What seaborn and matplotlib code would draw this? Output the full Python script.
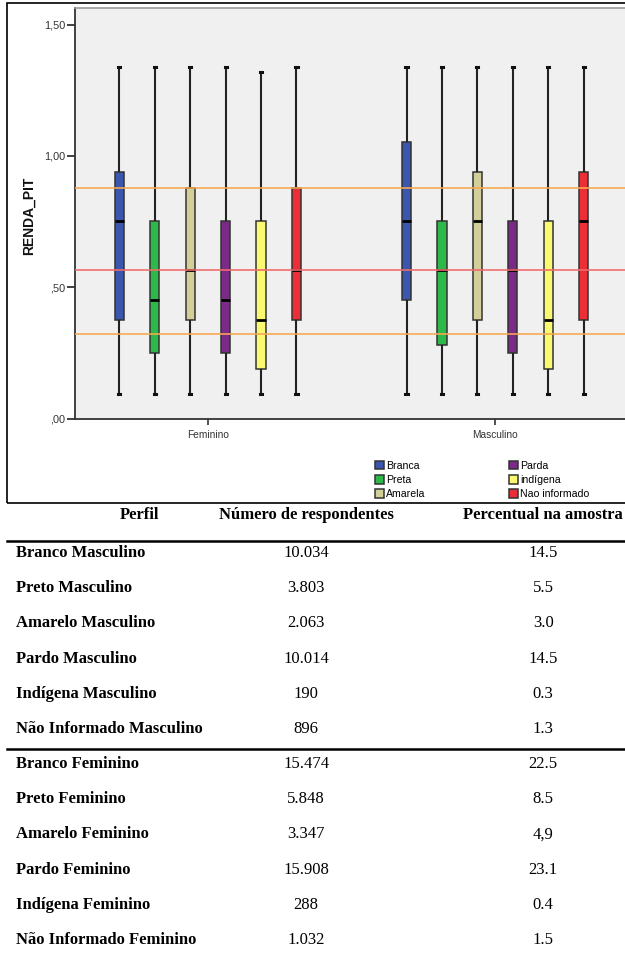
import matplotlib
matplotlib.use("Agg")
import matplotlib.pyplot as plt
from matplotlib.patches import Rectangle
import numpy as np
import pandas as pd
import seaborn as sns

# box summaries (min, Q1, median, Q3, max), one value per race group
racas = ["Branca", "Preta", "Amarela", "Parda", "indígena", "Nao informado"]
sexos = ["Feminino", "Masculino"]
cores = ["#3b57ad", "#2db84a", "#d3cf98", "#7b2a87", "#f9f871", "#ec2f37"]

fem_min = [0.095, 0.095, 0.095, 0.095, 0.095, 0.095]
fem_q1 = [0.376, 0.250, 0.376, 0.250, 0.189, 0.376]
fem_med = [0.753, 0.452, 0.564, 0.452, 0.376, 0.564]
fem_q3 = [0.940, 0.753, 0.876, 0.753, 0.753, 0.876]
fem_max = [1.337, 1.337, 1.337, 1.337, 1.318, 1.337]

masc_min = [0.095, 0.095, 0.095, 0.095, 0.095, 0.095]
masc_q1 = [0.452, 0.281, 0.376, 0.250, 0.189, 0.376]
masc_med = [0.753, 0.564, 0.753, 0.564, 0.376, 0.753]
masc_q3 = [1.052, 0.753, 0.940, 0.753, 0.753, 0.940]
masc_max = [1.337, 1.337, 1.337, 1.337, 1.337, 1.337]

ref_linhas = [0.876, 0.564, 0.322]
ref_cores = ["#f7a84f", "#f06b6b", "#f7a84f"]

yticks = [0.0, 0.5, 1.0, 1.5]
yticklabels = [",00", ",50", "1,00", "1,50"]

# table below the chart
perfil = ["Branco Masculino", "Preto Masculino", "Amarelo Masculino", "Pardo Masculino",
          "Indígena Masculino", "Não Informado Masculino", "Branco Feminino", "Preto Feminino",
          "Amarelo Feminino", "Pardo Feminino", "Indígena Feminino", "Não Informado Feminino"]
numero = ["10.034", "3.803", "2.063", "10.014", "190", "896",
          "15.474", "5.848", "3.347", "15.908", "288", "1.032"]
percentual = ["14.5", "5.5", "3.0", "14.5", "0.3", "1.3",
              "22.5", "8.5", "4,9", "23.1", "0.4", "1.5"]
cabecalho = ["Perfil", "Número de respondentes", "Percentual na amostra"]

# long form: five numbers per box -> seaborn gets exactly those quartiles back
rows = []
stats = {"Feminino": (fem_min, fem_q1, fem_med, fem_q3, fem_max),
         "Masculino": (masc_min, masc_q1, masc_med, masc_q3, masc_max)}
for sexo in sexos:
    for i, raca in enumerate(racas):
        for s in stats[sexo]:
            rows.append({"sexo": sexo, "raca": raca, "RENDA_PIT": s[i]})
df = pd.DataFrame(rows)

plt.rcParams["font.family"] = ["Liberation Sans", "DejaVu Sans"]

fig = plt.figure(figsize=(6.25, 9.64), dpi=100)
ax = fig.add_axes([75 / 625, (964 - 418.5) / 964, 553 / 625, 410.5 / 964])
ax.set_facecolor("#f0f0f0")

sns.boxplot(data=df, x="sexo", y="RENDA_PIT", hue="raca", order=sexos, hue_order=racas,
            palette=cores, saturation=1, whis=(0, 100), width=0.74, gap=0.74,
            linecolor="#333333", linewidth=1.1,
            medianprops={"color": "black", "linewidth": 2},
            whiskerprops={"color": "#222222", "linewidth": 1.5},
            capprops={"color": "#111111", "linewidth": 2.2},
            ax=ax)

# SPSS draws only tiny caps: shrink them around the whisker
for cont in ax.containers:
    for cap in getattr(cont, "caps", []):
        xd = np.asarray(cap.get_xdata(), dtype=float)
        mid = xd.mean()
        cap.set_xdata(mid + (xd - mid) * 0.45)

for v, c in zip(ref_linhas, ref_cores):
    ax.axhline(v, color=c, lw=1.3, alpha=0.9, zorder=5)

ax.set_xlim(-0.463, 1.463)
ax.set_ylim(0, 1.563)
ax.set_yticks(yticks)
ax.set_yticklabels(yticklabels)
ax.tick_params(axis="y", length=6, width=1.3, color="#333333", labelsize=7.8,
               labelcolor="#333333", pad=1)
ax.tick_params(axis="x", length=4, width=1.2, color="#333333", labelsize=7.3,
               labelcolor="#333333", pad=4)
ax.set_xlabel("")
ax.set_ylabel("RENDA_PIT", fontsize=10, fontweight="bold", color="#111111")
ax.yaxis.set_label_coords(-0.07, 0.493)
for side in ["left", "bottom"]:
    ax.spines[side].set_color("#333333")
    ax.spines[side].set_linewidth(1.3)
for side in ["top", "right"]:
    ax.spines[side].set_color("#9a9a9a")
    ax.spines[side].set_linewidth(1.2)

sns.move_legend(ax, "upper left", bbox_to_anchor=(0.533, -0.09), ncol=2, title=None,
                frameon=False, fontsize=7.6, handlelength=0.85, handleheight=0.9,
                handletextpad=0.2, columnspacing=7.9, labelspacing=0.4, borderpad=0)

# outer frame of the chart
fig.patches.append(Rectangle((7 / 625, 1 - 503 / 964), 1.0, 500 / 964, transform=fig.transFigure,
                             fill=False, ec="black", lw=1.2))

# table
tax = fig.add_axes([0, 0, 1, 461 / 964])
tax.axis("off")
tax.set_xlim(0, 1)
tax.set_ylim(11.68, -1.42)
serif = ["Liberation Serif", "DejaVu Serif"]
tax.text(0.224, -1.08, cabecalho[0], ha="center", va="center", fontsize=12,
         fontweight="bold", family=serif)
tax.text(0.49, -1.08, cabecalho[1], ha="center", va="center", fontsize=12,
         fontweight="bold", family=serif)
tax.text(0.869, -1.08, cabecalho[2], ha="center", va="center", fontsize=12,
         fontweight="bold", family=serif)
for i in range(len(perfil)):
    tax.text(0.026, i, perfil[i], ha="left", va="center", fontsize=12,
             fontweight="bold", family=serif)
    tax.text(0.49, i, numero[i], ha="center", va="center", fontsize=12, family=serif)
    tax.text(0.869, i, percentual[i], ha="center", va="center", fontsize=12, family=serif)
tax.plot([0.011, 1], [-0.34, -0.34], color="black", lw=1.8)
tax.plot([0.011, 1], [5.57, 5.57], color="black", lw=1.8)

fig.savefig("out.png", dpi=100)
